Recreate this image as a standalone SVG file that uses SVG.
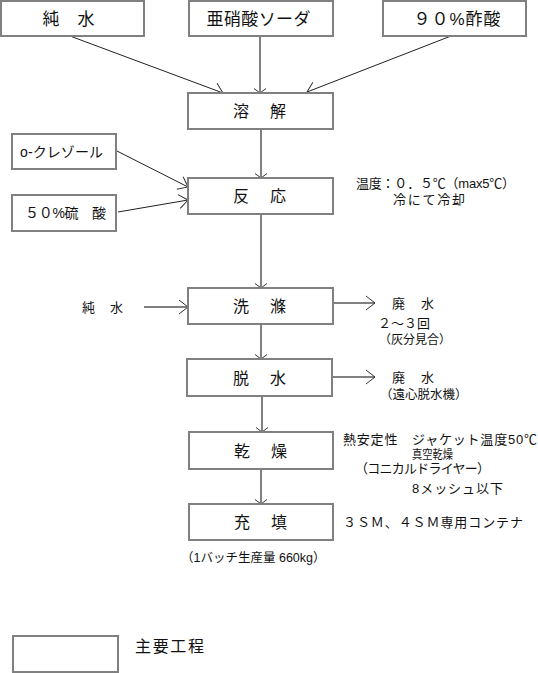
<svg xmlns="http://www.w3.org/2000/svg" width="538" height="673" viewBox="0 0 538 673">
<defs>
<style>
.box{fill:#fff;stroke:#808080;stroke-width:2}
.t{font-family:"Liberation Sans","Noto Sans CJK JP",sans-serif;fill:#111}
.big{font-size:16px;letter-spacing:2.5px}
.top{font-size:17px}
.s14{font-size:14px}
.s13{font-size:13px}
.s12{font-size:12px}
.c{fill:none;stroke:#808080;stroke-width:2}
.d{fill:none;stroke:#222;stroke-width:1}
</style>
<marker id="av" markerUnits="userSpaceOnUse" viewBox="-8 -8 10 16" refX="0" refY="0" markerWidth="10" markerHeight="16" orient="auto" overflow="visible">
<path d="M-4.5,-6 L0,0 L-4.5,6" fill="none" stroke="#333" stroke-width="1"/>
</marker>
<marker id="ah" markerUnits="userSpaceOnUse" viewBox="-10 -8 12 16" refX="0" refY="0" markerWidth="12" markerHeight="16" orient="auto" overflow="visible">
<path d="M-9,-7 L0,0 L-9,7" fill="none" stroke="#333" stroke-width="1"/>
</marker>
</defs>
<rect width="538" height="673" fill="#fff"/>

<g id="connectors">
<line class="d" x1="70" y1="36" x2="223" y2="93" marker-end="url(#ah)"/>
<line class="c" x1="260" y1="36" x2="260" y2="93" marker-end="url(#av)"/>
<line class="d" x1="451" y1="36" x2="307" y2="92" marker-end="url(#ah)"/>
<line class="c" x1="261" y1="129" x2="261" y2="178" marker-end="url(#av)"/>
<line class="d" x1="115" y1="150" x2="188" y2="187" marker-end="url(#ah)"/>
<line class="d" x1="118" y1="212" x2="188" y2="200" marker-end="url(#ah)"/>
<line class="c" x1="261" y1="214" x2="261" y2="288" marker-end="url(#av)"/>
<line class="c" x1="144" y1="307" x2="188" y2="307" marker-end="url(#ah)"/>
<line class="c" x1="333" y1="303" x2="375" y2="303" marker-end="url(#ah)"/>
<line class="c" x1="261" y1="324" x2="261" y2="359" marker-end="url(#av)"/>
<line class="c" x1="333" y1="377" x2="375" y2="377" marker-end="url(#ah)"/>
<line class="c" x1="262" y1="396" x2="262" y2="432" marker-end="url(#av)"/>
<line class="c" x1="261" y1="469" x2="261" y2="504" marker-end="url(#av)"/>
</g>

<g id="n-junsui-top">
<rect class="box" x="1" y="1" width="143" height="35"/>
<text class="t top" x="42.5" y="24.5" letter-spacing="0.5">純　水</text>
</g>
<g id="n-ashosan">
<rect class="box" x="189" y="1" width="144" height="35"/>
<text class="t top" x="206.5" y="24.5" textLength="104">亜硝酸ソーダ</text>
</g>
<g id="n-sakusan">
<rect class="box" x="383" y="1" width="143" height="35"/>
<text class="t top" x="413.5" y="24.5" textLength="87">９０%酢酸</text>
</g>
<g id="n-youkai">
<rect class="box" x="188" y="93" width="145" height="36"/>
<text class="t big" x="233" y="117">溶　解</text>
</g>
<g id="n-cresol">
<rect class="box" x="12" y="134" width="104" height="35"/>
<text class="t s14" x="20" y="157" textLength="83">o-クレゾール</text>
</g>
<g id="n-ryusan">
<rect class="box" x="12" y="195" width="104" height="36"/>
<text class="t s14" x="25" y="218" textLength="81">５０%硫　酸</text>
</g>
<g id="n-hannou">
<rect class="box" x="188" y="178" width="145" height="36"/>
<text class="t big" x="233" y="202">反　応</text>
</g>
<g id="n-note-hannou">
<text class="t s13" x="356" y="188" textLength="159">温度：０．５℃（max5℃）</text>
<text class="t s13" x="393" y="204" textLength="72">冷にて冷却</text>
</g>
<g id="n-junsui-left">
<text class="t s13" x="82" y="312" letter-spacing="1">純　水</text>
</g>
<g id="n-senjou">
<rect class="box" x="188" y="288" width="145" height="36"/>
<text class="t big" x="233" y="312">洗　滌</text>
</g>
<g id="n-haisui1">
<text class="t s13" x="392" y="308" letter-spacing="1.5">廃　水</text>
<text class="t s13" x="378" y="328" textLength="52">２～３回</text>
<text class="t s12" x="379" y="344">（灰分見合）</text>
</g>
<g id="n-dassui">
<rect class="box" x="187" y="359" width="145" height="37"/>
<text class="t big" x="233" y="383.5">脱　水</text>
</g>
<g id="n-haisui2">
<text class="t s13" x="392" y="382" letter-spacing="1.5">廃　水</text>
<text class="t" x="380" y="399" font-size="12.5">（遠心脱水機）</text>
</g>
<g id="n-kansou">
<rect class="box" x="189" y="432" width="144" height="37"/>
<text class="t big" x="234" y="457">乾　燥</text>
</g>
<g id="n-note-kansou">
<text class="t s13" x="343" y="444" textLength="194">熱安定性　ジャケット温度50℃</text>
<text class="t s12" x="412" y="459" textLength="41" lengthAdjust="spacingAndGlyphs">真空乾燥</text>
<text class="t s13" x="355" y="473" textLength="135">（コニカルドライヤー）</text>
<text class="t s13" x="412" y="493" textLength="91">8メッシュ以下</text>
</g>
<g id="n-juuten">
<rect class="box" x="189" y="504" width="144" height="36"/>
<text class="t big" x="234" y="528">充　填</text>
</g>
<g id="n-note-juuten">
<text class="t s13" x="343" y="527" textLength="180">３ＳＭ、４ＳＭ専用コンテナ</text>
</g>
<g id="n-batch">
<text class="t" x="181" y="562" font-size="12.5">（1バッチ生産量 660kg）</text>
</g>
<g id="legend">
<rect class="box" x="13" y="636" width="105" height="36"/>
<text class="t" x="135" y="652" font-size="16" textLength="69">主要工程</text>
</g>
</svg>
